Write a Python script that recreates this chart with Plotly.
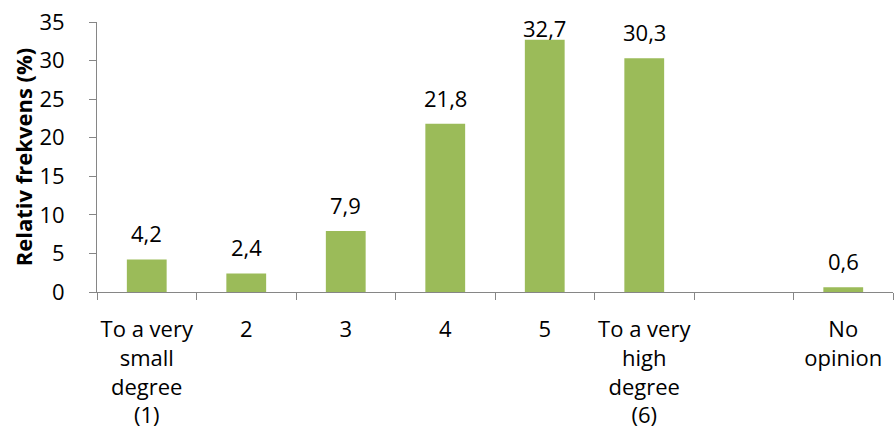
import plotly.graph_objects as go

categories = ["To a very<br>small<br>degree<br>(1)", "2", "3", "4", "5",
              "To a very<br>high<br>degree<br>(6)", " ", "No<br>opinion"]
values = [4.2, 2.4, 7.9, 21.8, 32.7, 30.3, None, 0.6]
labels = ["4,2", "2,4", "7,9", "21,8", "32,7", "30,3", "", "0,6"]

FONT = "'Open Sans', sans-serif"
GREEN = "#9BBB59"
GREY = "#868686"

fig = go.Figure(go.Bar(x=list(range(len(categories))), y=values, marker_color=GREEN,
                       marker_line_width=0, hoverinfo="skip"))

# value labels above the bars, kept inside the top of the plot area
for i, (v, lab) in enumerate(zip(values, labels)):
    if v is None:
        continue
    fig.add_annotation(x=i, y=min(v + 3.4, 34.2), text=lab, showarrow=False,
                       yanchor="middle", font=dict(family=FONT, size=22, color="black"))

fig.update_layout(
    width=894, height=437,
    margin=dict(l=97, r=1, t=22, b=145),
    plot_bgcolor="white", paper_bgcolor="white",
    bargap=0.6, showlegend=False,
    font=dict(family=FONT, size=22, color="black"),
)
fig.update_xaxes(
    type="category", tickvals=list(range(len(categories))), ticktext=categories,
    range=[-0.5, len(categories) - 0.5], tickangle=0,
    showline=True, linecolor=GREY, linewidth=1, automargin=False,
    ticks="outside", tickson="boundaries", ticklen=7, tickcolor=GREY,
    showgrid=False, ticklabelstandoff=18, tickfont=dict(size=22),
)
fig.update_yaxes(
    range=[0, 35], dtick=5, showline=True, linecolor=GREY, linewidth=1,
    ticks="outside", ticklen=7, tickcolor=GREY, showgrid=False, zeroline=False,
    automargin=False, ticklabelstandoff=20, tickfont=dict(size=22),
    title=dict(text="<b>Relativ frekvens (%)</b>", font=dict(size=22), standoff=0),
)

# drop the page's default 8px body margin so the figure sits at the window corner
fig.write_html("out.html", config={"displayModeBar": False},
               post_script="document.body.style.margin = '0';")
